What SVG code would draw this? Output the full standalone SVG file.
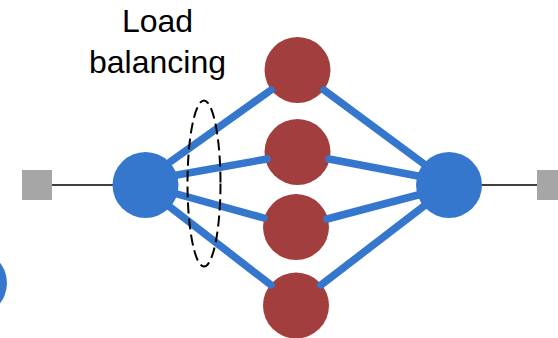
<svg xmlns="http://www.w3.org/2000/svg" width="558" height="338" viewBox="0 0 558 338">
<style>
.blue{fill:#3677CE}
.red{fill:#A23E3D}
.port{fill:#A6A6A6}
.thick{stroke:#3677CE;stroke-width:7.5;stroke-linecap:round;fill:none}
.thin{stroke:#000;stroke-width:1.3;fill:none}
.lbl{font-family:"Liberation Sans",Arial,sans-serif;font-size:32px;fill:#000;text-anchor:middle}
</style>
<rect width="558" height="338" fill="#fff"/>
<g id="ghost"><circle class="blue" cx="-26" cy="283" r="33"/></g>
<g id="connectors">
<line class="thin" x1="52" y1="185" x2="114" y2="185"/>
<line class="thin" x1="481" y1="185" x2="537" y2="185"/>
</g>
<g id="in-port"><rect class="port" x="22" y="170" width="30" height="30"/></g>
<g id="out-port"><rect class="port" x="537" y="170" width="30" height="30"/></g>
<g id="lb-left"><circle class="blue" cx="145.5" cy="185" r="33"/></g>
<g id="lb-right"><circle class="blue" cx="449" cy="185" r="33"/></g>
<g id="server1"><circle class="red" cx="297.5" cy="70" r="33"/></g>
<g id="server2"><circle class="red" cx="297.5" cy="152" r="33"/></g>
<g id="server3"><circle class="red" cx="296" cy="227" r="33"/></g>
<g id="server4"><circle class="red" cx="296" cy="305.5" r="33"/></g>
<g id="links">
<line class="thick" x1="170" y1="162" x2="271" y2="90"/>
<line class="thick" x1="177" y1="175" x2="267" y2="159"/>
<line class="thick" x1="177" y1="194" x2="264" y2="218"/>
<line class="thick" x1="170" y1="207" x2="271" y2="285"/>
<line class="thick" x1="324" y1="90" x2="424" y2="164"/>
<line class="thick" x1="329" y1="159" x2="418" y2="176"/>
<line class="thick" x1="327" y1="219" x2="418" y2="195"/>
<line class="thick" x1="321" y1="285" x2="424" y2="206"/>
</g>
<g id="lb-group"><ellipse cx="204" cy="183.5" rx="16.5" ry="83" fill="none" stroke="#000" stroke-width="2" stroke-dasharray="11,5"/></g>
<g id="label">
<text class="lbl" x="157.5" y="32">Load</text>
<text class="lbl" x="157.5" y="73">balancing</text>
</g>
</svg>
